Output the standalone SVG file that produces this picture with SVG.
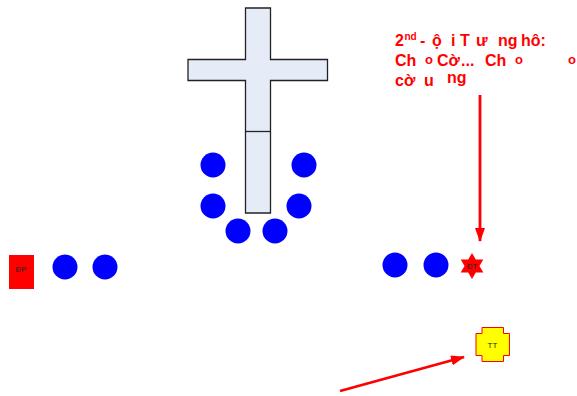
<svg xmlns="http://www.w3.org/2000/svg" width="577" height="396" viewBox="0 0 577 396">
<style>
.dot{fill:#0000ff}
.cross{fill:#e6ecf7;stroke:#222;stroke-width:1.3}
.lbl{font-family:"Liberation Sans",Arial,sans-serif;fill:#222}
.red{font-family:"Liberation Sans",Arial,sans-serif;font-weight:bold;fill:#ff0000;font-size:16px}
.sm{font-size:13px}
.conn{stroke:#ff0000;stroke-width:2.8;fill:none}
</style>
<defs>
<marker id="ah" viewBox="0 0 14 10" refX="13" refY="5" markerWidth="14" markerHeight="10" orient="auto" markerUnits="userSpaceOnUse">
<path d="M0,0 L14,5 L0,10 z" fill="#ff0000"/>
</marker>
</defs>
<g id="cross">
<path class="cross" d="M245.5,8 H270.5 V59.5 H327.5 V80.5 H270.5 V213 H245.5 V80.5 H188 V59.5 H245.5 Z"/>
<line x1="245.5" y1="131.5" x2="270.5" y2="131.5" stroke="#222" stroke-width="1.3"/>
</g>
<g id="dots">
<circle class="dot" cx="213" cy="165" r="12.5"/>
<circle class="dot" cx="304" cy="165" r="12.5"/>
<circle class="dot" cx="213" cy="206" r="12.5"/>
<circle class="dot" cx="299" cy="206" r="12.5"/>
<circle class="dot" cx="238" cy="231" r="12.5"/>
<circle class="dot" cx="275" cy="231" r="12.5"/>
<circle class="dot" cx="65" cy="267" r="12.5"/>
<circle class="dot" cx="105" cy="267" r="12.5"/>
<circle class="dot" cx="395" cy="265" r="12.5"/>
<circle class="dot" cx="436" cy="265" r="12.5"/>
</g>
<g id="dp">
<path d="M9,255 H34 V289 H9 Z" fill="#ff0000"/>
<text class="lbl" x="21" y="272" font-size="8" text-anchor="middle">ĐP</text>
</g>
<g id="dt">
<polygon points="472,253 475.8,259.5 483.3,259.5 479.5,266 483.3,272.5 475.8,272.5 472,279 468.2,272.5 460.7,272.5 464.5,266 460.7,259.5 468.2,259.5" fill="#ff0000"/>
<text class="lbl" x="472" y="269" font-size="8" text-anchor="middle">ĐT</text>
</g>
<g id="tt">
<path d="M482,327.5 H503.5 V333.5 H509.5 V355.5 H503.5 V361.5 H482 V355.5 H476 V333.5 H482 Z" fill="#ffff00" stroke="#ff0000" stroke-width="1"/>
<text class="lbl" x="492.5" y="348" font-size="8" text-anchor="middle">TT</text>
</g>
<g id="note">
<text class="red"><tspan x="395" y="46">2</tspan><tspan x="404.5" y="40" font-size="10">nd</tspan><tspan x="420" y="46">-</tspan><tspan x="432" y="46">ộ</tspan><tspan x="451" y="46">i</tspan><tspan x="460" y="46">T</tspan><tspan x="476" y="46">ư</tspan><tspan x="498" y="46">ng</tspan><tspan x="521" y="46">hô:</tspan></text>
<text class="red"><tspan x="395" y="66">Ch</tspan><tspan class="sm" x="425" y="64">o</tspan><tspan x="437" y="66">Cờ</tspan><tspan x="461" y="66">...</tspan><tspan x="485" y="66">Ch</tspan><tspan class="sm" x="515" y="64">o</tspan><tspan class="sm" x="568" y="64">o</tspan></text>
<text class="red"><tspan x="395" y="86">cờ</tspan><tspan x="424" y="86">u</tspan><tspan x="447" y="83">ng</tspan></text>
</g>
<g id="connectors">
<line class="conn" x1="480" y1="95" x2="480" y2="241" marker-end="url(#ah)"/>
<line class="conn" x1="340" y1="391" x2="464" y2="357" marker-end="url(#ah)"/>
</g>
</svg>
